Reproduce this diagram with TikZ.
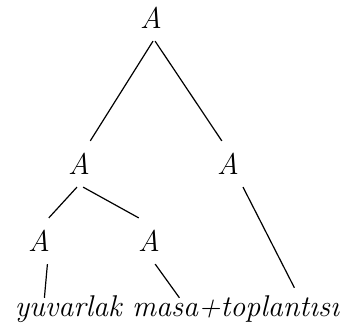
\documentclass[tikz,border=0pt]{standalone}
\usetikzlibrary{calc}
\tikzset{
	cat/.style ={inner sep=6pt, font=\fontsize{15}{18}\selectfont\itshape},
	word/.style={inner sep=2pt, anchor=base, font=\fontsize{15}{18}\selectfont\itshape},
	branch/.style={line width=0.6pt},
}
\begin{document}
\begin{tikzpicture}[x=0.5pt, y=-0.5pt]
	\useasboundingbox (0,0) rectangle (344,331);
	% category nodes
	\node[cat] (root) at (151,18)  {A};
	\node[cat] (al)   at (79,164)  {A};
	\node[cat] (ar)   at (228,164) {A};
	\node[cat] (all)  at (39,241)  {A};
	\node[cat] (alr)  at (149,241) {A};
	% the words
	\node[word] (leaf) at (177,317) {yuvarlak masa+toplantısı};
	\coordinate (w1) at ($(leaf.north west)+(34,6)$);
	\coordinate (w2) at ($(leaf.north west)+(169,6)$);
	\coordinate (w3) at ($(leaf.north west)+(284,-4)$);
	% branches
	\draw[branch] (root.-85) -- (al.64);
	\draw[branch] (root.-80) -- (ar.105);
	\draw[branch] (al.-95) -- (all.67);
	\draw[branch] (al.-80) -- (alr.114);
	\draw[branch] (all.-70) -- (w1);
	\draw[branch] (alr.-75) -- (w2);
	\draw[branch] (ar.-57) -- (w3);
\end{tikzpicture}
\end{document}
